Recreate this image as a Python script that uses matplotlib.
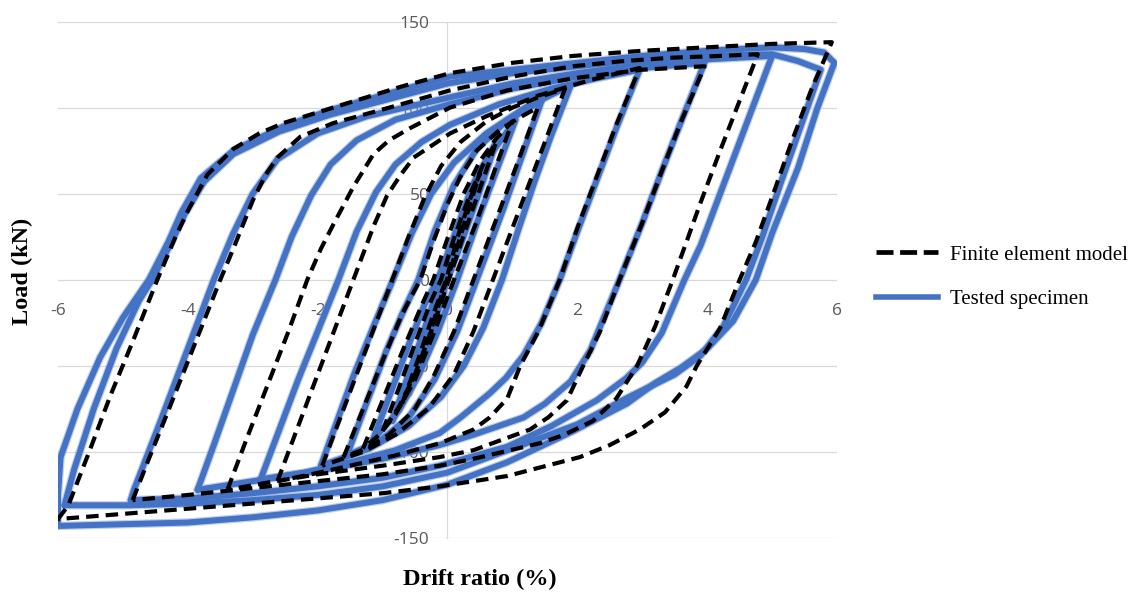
import matplotlib

matplotlib.use("Agg")
import matplotlib.pyplot as plt  # noqa: E402
from matplotlib.lines import Line2D  # noqa: E402

# Finite element model loops, one closed loop per drift amplitude (%)
fe_6_x = [-6.0, -5.84, -5.5, -5.19, -4.85, -4.47, -4.2, -4.0, -3.7, -3.3, -2.9, -2.53, -1.76, -0.73, 0.04,
          1.0, 1.93, 3.0, 3.99, 5.0, 5.92,
          5.6, 5.3, 5.0, 4.75, 4.5, 4.2, 3.84, 3.68, 3.35, 2.96, 2.5, 2.04, 0.92, -0.12, -1.0, -2.0, -3.0,
          -4.0, -5.0, -6.0]
fe_6_y = [-139, -131, -98, -67, -36, 0, 24, 40, 61, 76, 85, 91, 100, 112, 120,
          126, 130, 133, 135, 137, 138,
          110, 80, 48, 22, 0, -28, -50, -62, -77, -87, -96, -103, -114, -120, -124, -127, -130,
          -133, -136, -139]

fe_5_x = [-4.85, -4.6, -4.3, -3.9, -3.5, -3.3, -3.0, -2.8, -2.62, -2.27, -1.76, -0.99, 0.04, 1.0, 1.93, 2.7,
          3.47, 4.2, 4.78,
          4.5, 4.2, 3.9, 3.7, 3.47, 3.2, 2.92, 2.6, 2.24, 1.8, 1.42, 0.4, -0.12, -1.0, -2.0, -3.0, -4.0, -4.85]
fe_5_y = [-128, -104, -76, -38, 0, 18, 46, 61, 71, 83, 91, 99, 110, 118, 124, 127,
          129, 130, 131,
          104, 75, 45, 24, 0, -27, -50, -69, -82, -90, -95, -104, -108, -113, -117, -121, -125, -128]

fe_4_x = [-3.39, -3.1, -2.78, -2.45, -2.16, -1.95, -1.76, -1.45, -1.14, -0.9, -0.58, 0.04, 0.92, 1.93, 3.0, 3.96,
          3.6, 3.3, 3.0, 2.65, 2.35, 2.09, 1.84, 1.55, 1.27, 0.4, -0.12, -1.0, -2.0, -2.8, -3.39]
fe_4_y = [-122, -93, -62, -30, 0, 18, 32, 54, 73, 81, 88, 100, 110, 117, 122, 124,
          92, 63, 33, 0, -30, -50, -70, -80, -87, -99, -103, -108, -113, -118, -122]

fe_3_x = [-2.62, -2.3, -1.96, -1.7, -1.45, -1.14, -0.93, -0.72, -0.52, 0.04, 0.6, 1.4, 2.2, 2.96,
          2.6, 2.3, 2.0, 1.73, 1.4, 1.12, 0.92, 0.65, 0.4, -0.12, -0.8, -1.5, -2.1, -2.62]
fe_3_y = [-117, -85, -51, -25, 0, 31, 49, 61, 71, 85, 95, 107, 116, 123,
          90, 60, 30, 0, -30, -50, -69, -80, -87, -95, -102, -108, -113, -117]

fe_2_x = [-1.93, -1.7, -1.45, -1.2, -0.85, -0.6, -0.35, -0.1, 0.2, 0.6, 1.0, 1.4, 1.81,
          1.5, 1.2, 0.95, 0.7, 0.4, 0.1, -0.3, -0.8, -1.3, -1.93]
fe_2_y = [-108, -85, -60, -35, 0, 25, 48, 66, 80, 92, 100, 106, 111,
          80, 50, 25, 0, -30, -55, -75, -90, -100, -108]

fe_15_x = [-1.6, -1.3, -1.0, -0.7, -0.42, -0.2, 0.0, 0.2, 0.45, 0.8, 1.1, 1.39,
           1.1, 0.8, 0.4, 0.1, -0.2, -0.5, -0.9, -1.25, -1.6]
fe_15_y = [-103, -75, -47, -20, 0, 24, 44, 60, 75, 87, 94, 100,
           70, 40, 0, -30, -55, -75, -90, -98, -103]

fe_1_x = [-1.3, -1.0, -0.7, -0.4, -0.22, 0.0, 0.25, 0.5, 0.75, 1.0,
          0.75, 0.45, 0.1, -0.2, -0.5, -0.8, -1.05, -1.3]
fe_1_y = [-98, -70, -42, -15, 0, 24, 50, 69, 82, 92,
          66, 34, 0, -30, -58, -78, -90, -98]

fe_075_x = [-1.0, -0.75, -0.5, -0.25, -0.1, 0.1, 0.35, 0.55, 0.75,
            0.5, 0.25, 0.02, -0.25, -0.5, -0.75, -1.0]
fe_075_y = [-88, -63, -37, -12, 0, 24, 50, 67, 80,
            53, 26, 0, -30, -55, -74, -88]

fe_05_x = [-0.7, -0.45, -0.2, -0.02, 0.15, 0.35, 0.5,
           0.3, 0.08, -0.1, -0.3, -0.5, -0.7]
fe_05_y = [-72, -46, -18, 0, 24, 47, 62,
           38, 10, -10, -35, -55, -72]

# Tested specimen loops
test_6a_x = [-6.0, -6.0, -5.96, -5.7, -5.35, -5.0, -4.6, -4.3, -4.1, -3.8, -3.3, -2.53, -1.76, -0.73, 0.04,
             1.0, 2.0, 3.0, 4.0, 5.0, 5.5, 5.8, 5.96,
             5.7, 5.4, 5.0, 4.75, 4.4, 4.0, 3.6, 3.2, 2.76, 1.93, 0.92, 0.0, -1.0, -2.0, -3.0, -4.0, -5.0, -6.0]
test_6a_y = [-143, -125, -103, -75, -45, -22, 0, 22, 39, 59, 75, 89, 99, 110, 118,
             122, 126, 130, 133, 135, 134, 132, 126,
             100, 65, 27, 0, -24, -40, -51, -60, -72, -88, -106, -119, -128, -134, -138, -141, -142, -143]

test_6b_x = [-5.9, -5.75, -5.45, -5.1, -4.75, -4.55, -4.25, -4.05, -3.75, -3.3, -2.6, -1.8, -0.8, 0.0,
             1.0, 2.0, 3.0, 4.0, 5.0, 5.4, 5.75,
             5.45, 5.15, 4.85, 4.6, 4.25, 3.9, 3.5, 2.8, 2.0, 1.0, 0.0, -1.0, -2.0, -3.0, -4.0, -4.9, -5.9]
test_6b_y = [-131, -110, -75, -40, -12, 0, 22, 38, 57, 73, 86, 96, 106, 114,
             120, 124, 128, 130, 131, 127, 122,
             90, 58, 25, 0, -27, -44, -55, -68, -84, -98, -112, -120, -125, -128, -130, -131, -131]

test_5_x = [-4.88, -4.83, -4.45, -4.05, -3.6, -3.3, -3.0, -2.62, -2.0, -1.24, 0.04, 1.0, 2.0, 3.0, 4.0, 5.0,
            4.7, 4.4, 4.1, 3.9, 3.65, 3.3, 3.0, 2.76, 2.3, 1.6, 0.92, -0.12, -1.0, -2.0, -3.0, -4.0, -4.88]
test_5_y = [-128, -122, -85, -45, 0, 27, 50, 70, 85, 95, 106, 114, 120, 125, 128, 130,
            100, 70, 40, 20, 0, -31, -48, -57, -70, -85, -97, -108, -115, -120, -124, -127, -128]

test_4_x = [-3.85, -3.6, -3.3, -3.0, -2.65, -2.4, -2.1, -1.8, -1.4, -0.8, 0.04, 1.0, 2.0, 3.0, 3.96,
            3.6, 3.3, 3.0, 2.65, 2.2, 1.9, 1.5, 1.17, 0.4, -0.12, -1.0, -2.0, -3.0, -3.85]
test_4_y = [-122, -96, -64, -32, 0, 25, 49, 67, 81, 93, 102, 111, 118, 123, 126,
            92, 63, 33, 0, -41, -59, -72, -80, -90, -96, -104, -111, -117, -122]

test_3_x = [-2.88, -2.6, -2.3, -2.0, -1.68, -1.4, -1.1, -0.8, -0.4, 0.04, 0.8, 1.6, 2.3, 2.96,
            2.6, 2.3, 2.0, 1.73, 1.45, 1.17, 0.9, 0.65, 0.2, -0.12, -0.8, -1.5, -2.2, -2.88]
test_3_y = [-116, -88, -58, -30, 0, 28, 51, 67, 80, 90, 102, 111, 117, 122,
            88, 58, 28, 0, -25, -44, -57, -66, -80, -89, -99, -106, -112, -116]

test_2_x = [-1.95, -1.7, -1.45, -1.15, -0.84, -0.55, -0.25, 0.1, 0.6, 1.2, 1.9,
            1.6, 1.35, 1.1, 0.84, 0.55, 0.25, -0.1, -0.6, -1.2, -1.95]
test_2_y = [-108, -82, -56, -28, 0, 27, 50, 68, 85, 100, 113,
            84, 58, 30, 0, -28, -50, -68, -85, -98, -108]

test_15_x = [-1.55, -1.25, -0.95, -0.7, -0.45, -0.2, 0.1, 0.45, 0.9, 1.45,
             1.15, 0.85, 0.45, 0.15, -0.2, -0.6, -1.05, -1.55]
test_15_y = [-102, -72, -42, -20, 0, 28, 55, 76, 92, 104,
             72, 40, 0, -30, -58, -80, -94, -102]

test_1_x = [-1.15, -0.9, -0.6, -0.35, -0.15, 0.1, 0.35, 0.65, 1.05,
            0.8, 0.5, 0.15, -0.15, -0.45, -0.75, -1.15]
test_1_y = [-93, -68, -38, -14, 0, 25, 50, 72, 93,
            68, 38, 0, -30, -56, -76, -93]

test_075_x = [-0.85, -0.6, -0.35, -0.1, 0.15, 0.4, 0.75,
              0.5, 0.2, -0.05, -0.3, -0.55, -0.85]
test_075_y = [-82, -55, -28, 0, 30, 56, 80,
              52, 20, -5, -35, -60, -82]

test_05_x = [-0.6, -0.35, -0.1, 0.15, 0.35, 0.5,
             0.3, 0.05, -0.2, -0.4, -0.6]
test_05_y = [-66, -38, -10, 20, 45, 62,
             38, 8, -25, -48, -66]

x_ticks = [-6, -4, -2, 0, 2, 4, 6]
y_ticks = [-150, -100, -50, 0, 50, 100, 150]

FE_LOOPS = [(fe_05_x, fe_05_y), (fe_075_x, fe_075_y), (fe_1_x, fe_1_y), (fe_15_x, fe_15_y),
            (fe_2_x, fe_2_y), (fe_3_x, fe_3_y), (fe_4_x, fe_4_y), (fe_5_x, fe_5_y), (fe_6_x, fe_6_y)]
TEST_LOOPS = [(test_05_x, test_05_y), (test_075_x, test_075_y), (test_1_x, test_1_y),
              (test_15_x, test_15_y), (test_2_x, test_2_y), (test_3_x, test_3_y),
              (test_4_x, test_4_y), (test_5_x, test_5_y), (test_6b_x, test_6b_y), (test_6a_x, test_6a_y)]

BLUE = "#4472c4"
BLUE_HALO = "#8aa6dc"
GRID = "#d9d9d9"
TICK = "#595959"
SERIF = "Liberation Serif"

fig = plt.figure(figsize=(11.42, 5.92), dpi=100)
ax = fig.add_axes([58 / 1142, 54 / 592, 779 / 1142, 516.5 / 592])

# soft halo first so the test bands look a little fuzzy like the scanned figure
for xs, ys in TEST_LOOPS:
    ax.plot(xs, ys, color=BLUE_HALO, lw=6.0, alpha=0.55, solid_joinstyle="round",
            solid_capstyle="round", zorder=1.5)
for xs, ys in TEST_LOOPS:
    ax.plot(xs, ys, color=BLUE, lw=4.3, solid_joinstyle="round", solid_capstyle="round", zorder=2)
for xs, ys in FE_LOOPS:
    ax.plot(xs, ys, color="black", lw=3.0, dashes=(3.0, 1.7), zorder=3)

ax.set_xlim(-6, 6)
ax.set_ylim(-150, 150)
ax.set_xticks(x_ticks)
ax.set_yticks(y_ticks)
ax.set_xticklabels([str(v) for v in x_ticks])
ax.set_yticklabels([str(v) for v in y_ticks])

for side in ("top", "right"):
    ax.spines[side].set_visible(False)
ax.spines["bottom"].set_position(("data", 0))
ax.spines["bottom"].set_color("none")
ax.spines["left"].set_position(("data", 0))
ax.spines["left"].set_color(GRID)
ax.spines["left"].set_linewidth(0.9)
ax.spines["left"].set_zorder(0.5)

ax.yaxis.grid(True, color=GRID, lw=0.9, zorder=0)
ax.set_axisbelow(True)
ax.tick_params(axis="x", length=0, pad=17, labelsize=12.5, labelcolor=TICK)
ax.tick_params(axis="y", length=0, pad=13, labelsize=12.5, labelcolor=TICK)
for lab in ax.get_xticklabels() + ax.get_yticklabels():
    lab.set_fontfamily("Open Sans")

fig.text(22.5 / 1142, 1 - 271 / 592, "Load (kN)", rotation=90, ha="center", va="center",
         fontsize=17.5, fontweight="bold", family=SERIF)
fig.text(480 / 1142, 1 - 579 / 592, "Drift ratio (%)", ha="center", va="center",
         fontsize=17.5, fontweight="bold", family=SERIF)

handles = [
    Line2D([0], [0], color="black", lw=3.4, dashes=(3.6, 1.4)),
    Line2D([0], [0], color=BLUE, lw=4.0),
]
fig.legend(handles, ["Finite element model", "Tested specimen"], loc="center left",
           bbox_to_anchor=(866 / 1142, 1 - 277 / 592), frameon=False, borderpad=0,
           handlelength=2.95, handletextpad=0.6, labelspacing=1.2,
           prop={"family": SERIF, "size": 15})

fig.savefig("out.png", dpi=100)
